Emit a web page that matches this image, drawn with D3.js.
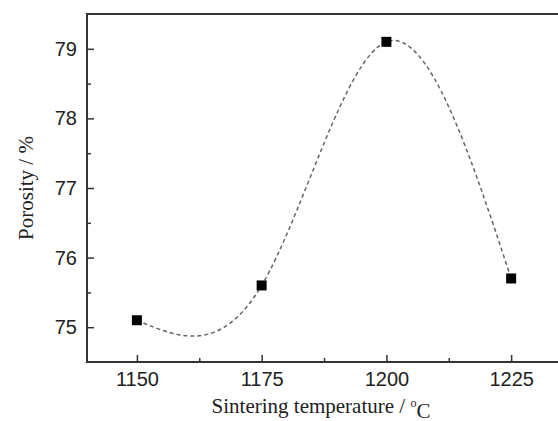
<!DOCTYPE html>
<html>
<head>
<meta charset="utf-8">
<script src="https://cdn.jsdelivr.net/npm/d3@7"></script>
<style>
  body { margin: 0; background: #fff; }
  svg { display: block; }
</style>
</head>
<body>
<div id="chart"></div>
<script>
// data
var temperatures = [1150, 1175, 1200, 1225];
var porosity = [75.1, 75.6, 79.1, 75.7];
var xTicks = [1150, 1175, 1200, 1225];
var xMinorTicks = [1162.5, 1187.5, 1212.5];
var yTicks = [75, 76, 77, 78, 79];
var yMinorTicks = [75.5, 76.5, 77.5, 78.5];

var width = 558, height = 421;
// plot box (right edge runs past the picture, as in the original)
var plotLeft = 87, plotTop = 14, plotRight = 586, plotBottom = 362;

var svg = d3.select("#chart").append("svg")
    .attr("width", width)
    .attr("height", height);

var x = d3.scaleLinear().domain([1140, 1240]).range([plotLeft, plotRight]);
var y = d3.scaleLinear().domain([74.5, 79.5]).range([plotBottom, plotTop]);

var axisColor = "#333";

// frame
svg.append("rect")
    .attr("x", plotLeft).attr("y", plotTop)
    .attr("width", plotRight - plotLeft).attr("height", plotBottom - plotTop)
    .style("fill", "none")
    .style("stroke", axisColor)
    .style("stroke-width", 2);

// x axis ticks (pointing inward)
var gx = svg.append("g").attr("transform", "translate(0," + plotBottom + ")");
gx.call(d3.axisBottom(x).tickValues(xTicks).tickSize(-7).tickPadding(10).tickFormat(d3.format("d")));
gx.append("g").call(d3.axisBottom(x).tickValues(xMinorTicks).tickSize(-4).tickFormat(""));
gx.selectAll(".domain").remove();

// y axis ticks
var gy = svg.append("g").attr("transform", "translate(" + plotLeft + ",0)");
gy.call(d3.axisLeft(y).tickValues(yTicks).tickSize(-7).tickPadding(10).tickFormat(d3.format("d")));
gy.append("g").call(d3.axisLeft(y).tickValues(yMinorTicks).tickSize(-4).tickFormat(""));
gy.selectAll(".domain").remove();

svg.selectAll(".tick line").style("stroke", axisColor).style("stroke-width", 1.5);
svg.selectAll(".tick text")
    .style("font-family", "'Liberation Sans', Arial, sans-serif")
    .style("font-size", "20px")
    .style("fill", "#222");

// dashed spline through the points
var pts = temperatures.map(function(t, i) { return [t, porosity[i]]; });
var line = d3.line()
    .x(function(d) { return x(d[0]); })
    .y(function(d) { return y(d[1]); })
    .curve(d3.curveNatural);

svg.append("path")
    .attr("d", line(pts))
    .style("fill", "none")
    .style("stroke", "#666")
    .style("stroke-width", 1.5)
    .style("stroke-dasharray", "4,3");

// square markers
var s = 10;
svg.selectAll("rect.pt").data(pts).enter().append("rect")
    .attr("class", "pt")
    .attr("x", function(d) { return x(d[0]) - s / 2; })
    .attr("y", function(d) { return y(d[1]) - s / 2; })
    .attr("width", s).attr("height", s)
    .style("fill", "#000");

// axis titles
var xt = svg.append("text")
    .attr("x", 321).attr("y", 413)
    .attr("text-anchor", "middle")
    .style("font-family", "'Liberation Serif', 'Times New Roman', serif")
    .style("font-size", "21px")
    .style("fill", "#222");
xt.append("tspan").text("Sintering temperature / ");
xt.append("tspan").text("o").attr("dy", "-0.5em").style("font-size", "12px");
xt.append("tspan").text("C").attr("dy", "0.5em");

svg.append("text")
    .attr("transform", "translate(33,188) rotate(-90)")
    .attr("text-anchor", "middle")
    .style("font-family", "'Liberation Serif', 'Times New Roman', serif")
    .style("font-size", "21px")
    .style("fill", "#222")
    .text("Porosity / %");
</script>
</body>
</html>
